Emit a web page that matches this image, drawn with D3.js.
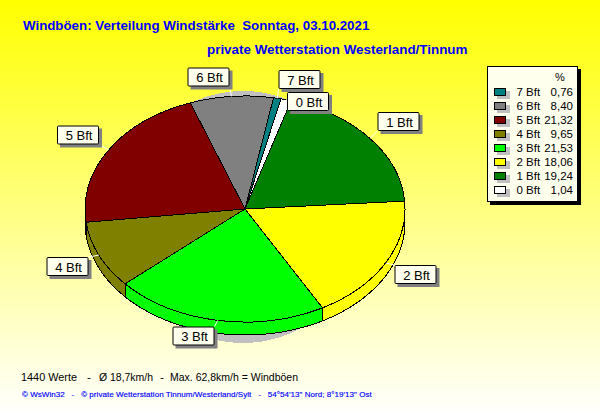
<!DOCTYPE html>
<html><head><meta charset="utf-8">
<script src="https://cdn.jsdelivr.net/npm/d3@7"></script>
<style>html,body{margin:0;padding:0;background:#fff}svg{display:block}text{font-family:"Liberation Sans",Arial,sans-serif;white-space:pre}</style>
</head><body><svg id="c" width="600" height="415"></svg>
<script>
const categories = ["0 Bft","1 Bft","2 Bft","3 Bft","4 Bft","5 Bft","6 Bft","7 Bft"];
const percents = [1.04,19.24,18.06,21.53,9.65,21.32,8.40,0.76];
const sliceColors = ["#ffffff","#008000","#ffff00","#00ff00","#808000","#800000","#808080","#008080"];
const legendOrder = [7,6,5,4,3,2,1,0];
const percentLabels = ["1,04","19,24","18,06","21,53","9,65","21,32","8,40","0,76"];
const labelBoxes = {"0 Bft":[287,92],"1 Bft":[377.5,112],"2 Bft":[394.5,265],"3 Bft":[172.5,326.5],"4 Bft":[46.5,257],"5 Bft":[57,125.5],"6 Bft":[187.5,67.5],"7 Bft":[278.5,70]};
const footerParts = [["1440 Werte",21,56],["-",87,4],["Ø 18,7km/h",99,54],["-",160,4],["Max. 62,8km/h = Windböen",170,128]];

const svg = d3.select("#c");
const defs = svg.append("defs");
const g = defs.append("linearGradient").attr("id","bg").attr("x1",0).attr("y1",0).attr("x2",0).attr("y2",1);
g.append("stop").attr("offset",0).attr("stop-color","#ffff00");
g.append("stop").attr("offset",1).attr("stop-color","#ffffff");
svg.append("rect").attr("width",600).attr("height",415).attr("fill","url(#bg)");

const cx=245, cy=209, rx=160, ry=113, depth=13;
const rad = d=>d*Math.PI/180;
const arcs = d3.pie().sort(null).value(d=>d).startAngle(rad(13)).endAngle(rad(373))(percents);
const ex = t=>cx+rx*Math.sin(t), ey = t=>cy-ry*Math.cos(t);

// shadow
svg.append("ellipse").attr("cx",243).attr("cy",217).attr("rx",123).attr("ry",126).attr("fill","#c0c0c0").attr("shape-rendering","crispEdges");

// side wall (front half only)
function sidePath(a0,a1){
  const pts=[];
  for(let i=0;i<=60;i++){const t=a0+(a1-a0)*i/60;pts.push([ex(t),ey(t)]);}
  for(let i=60;i>=0;i--){const t=a0+(a1-a0)*i/60;pts.push([ex(t),ey(t)+depth]);}
  return d3.line()(pts)+"Z";
}
const wall = svg.append("g").attr("shape-rendering","crispEdges");
arcs.forEach((a,i)=>{
  const a0=Math.max(a.startAngle,rad(90)), a1=Math.min(a.endAngle,rad(270));
  if(a1<=a0) return;
  wall.append("path").attr("d",sidePath(a0,a1)).attr("fill",sliceColors[i]).attr("stroke","#000").attr("stroke-width",1);
});

// top face
const arcGen = d3.arc().innerRadius(0).outerRadius(rx);
svg.append("g").attr("transform",`translate(${cx},${cy}) scale(1,${ry/rx})`)
  .selectAll("path").data(arcs).join("path")
  .attr("d",arcGen).attr("fill",(d,i)=>sliceColors[i])
  .attr("stroke","#000").attr("stroke-width",1).attr("vector-effect","non-scaling-stroke").attr("shape-rendering","crispEdges");

// leaders and labels
const bw=42, bh=19;
arcs.forEach((a,i)=>{
  const m=(a.startAngle+a.endAngle)/2, c=categories[i], b=labelBoxes[c];
  const px=ex(m), py=ey(m);
  const qx=Math.max(b[0],Math.min(b[0]+bw,px)), qy=Math.max(b[1],Math.min(b[1]+bh,py));
  svg.append("line").attr("x1",px).attr("y1",py).attr("x2",qx).attr("y2",qy).attr("stroke","#fff").attr("stroke-width",1);
});
arcs.forEach((a,i)=>{
  const c=categories[i], b=labelBoxes[c];
  svg.append("rect").attr("x",b[0]+3).attr("y",b[1]+3).attr("width",bw).attr("height",bh).attr("fill","#808080");
  svg.append("rect").attr("x",b[0]+.5).attr("y",b[1]+.5).attr("width",bw-1).attr("height",bh-1).attr("rx",1).attr("fill","#ffffee").attr("stroke","#000");
  svg.append("text").attr("x",b[0]+bw/2+1).attr("y",b[1]+14.5).attr("text-anchor","middle").attr("font-size",13).attr("fill","#000").text(c);
});

// legend
svg.append("rect").attr("x",490).attr("y",69).attr("width",91).attr("height",136).attr("fill","#000");
svg.append("rect").attr("x",487.5).attr("y",66.5).attr("width",90).attr("height",135).attr("fill","#ffffee").attr("stroke","#000");
svg.append("text").attr("x",560).attr("y",81).attr("text-anchor","middle").attr("font-size",11).text("%");
const ly=d3.scalePoint().domain(legendOrder).range([92,190]);
legendOrder.forEach(i=>{
  const y=ly(i);
  svg.append("rect").attr("x",497).attr("y",y-1).attr("width",13).attr("height",8).attr("fill","#c0c0c0");
  svg.append("rect").attr("x",494.5).attr("y",y-3.5).attr("width",11).attr("height",7).attr("fill",sliceColors[i]).attr("stroke","#000");
  svg.append("text").attr("x",516.5).attr("y",y+4).attr("font-size",11.5).text(categories[i]);
  svg.append("text").attr("x",573).attr("y",y+4).attr("text-anchor","end").attr("font-size",11.5).text(percentLabels[i]);
});

// titles
svg.append("text").attr("x",23).attr("y",30).attr("font-size",13.3).attr("font-weight","bold").attr("fill","#0000ff").text("Windböen: Verteilung Windstärke  Sonntag, 03.10.2021");
svg.append("text").attr("x",207).attr("y",54).attr("font-size",13.4).attr("font-weight","bold").attr("fill","#0000ff").text("private Wetterstation Westerland/Tinnum");
footerParts.forEach(p=>svg.append("text").attr("x",p[1]).attr("y",381).attr("font-size",11.5).attr("textLength",p[2]).attr("lengthAdjust","spacingAndGlyphs").attr("fill","#000").text(p[0]));
svg.append("text").attr("x",22).attr("y",397).attr("font-size",8).attr("letter-spacing",0.05).attr("fill","#0000ff").attr("stroke","#0000ff").attr("stroke-width",0.15).text("© WsWin32   -   © private Wetterstation Tinnum/Westerland/Sylt   -   54°54'13\" Nord; 8°19'13\" Ost");
</script></body></html>
